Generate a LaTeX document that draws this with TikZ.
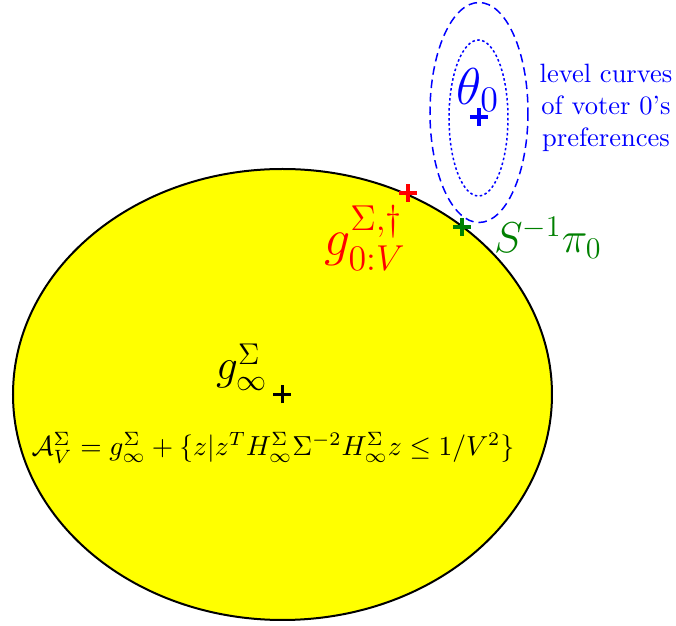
\documentclass[tikz,border=0pt]{standalone}
\usepackage{amsmath,amssymb}
\definecolor{dgreen}{RGB}{0,128,0}
\definecolor{pyellow}{RGB}{255,255,0}
\definecolor{pblue}{RGB}{0,0,255}
\definecolor{pred}{RGB}{255,0,0}
\begin{document}
\begin{tikzpicture}[x=0.4pt,y=-0.4pt,
  pmark/.style={line width=1.3pt},
  lbl/.style={inner sep=0pt}]
\useasboundingbox (0,0) rectangle (676,626);
% yellow set
\coordinate (c) at (282.5,394.5);
\draw[fill=pyellow,line width=0.8pt] (c) ellipse [x radius=269.5, y radius=225.5];
% level curves
\draw[pblue,line width=0.6pt,dash pattern=on 3.4pt off 2pt] (479,112.5) ellipse [x radius=49, y radius=110];
\draw[pblue,line width=0.6pt,dash pattern=on 1pt off 1pt] (478.5,118) ellipse [x radius=29.5, y radius=78];
% markers
\coordinate (p0) at (479,117);
\coordinate (pr) at (408,193);
\coordinate (pg) at (462,227);
\draw[pmark,pblue] ([xshift=-3.6pt]p0) -- ([xshift=3.6pt]p0) ([yshift=-3.6pt]p0) -- ([yshift=3.6pt]p0);
\draw[pmark,pred] ([xshift=-3.6pt]pr) -- ([xshift=3.6pt]pr) ([yshift=-3.6pt]pr) -- ([yshift=3.6pt]pr);
\draw[pmark,dgreen] ([xshift=-3.6pt]pg) -- ([xshift=3.6pt]pg) ([yshift=-3.6pt]pg) -- ([yshift=3.6pt]pg);
\draw[pmark,black] ([xshift=-3.6pt]c) -- ([xshift=3.6pt]c) ([yshift=-3.6pt]c) -- ([yshift=3.6pt]c);
% labels
\node[lbl,pblue] (theta) at (478,90) {\huge $\theta_0$};
\node[lbl,pred] (gd) at (365,238) {\huge $g^{\Sigma,\dagger}_{0:V}$};
\node[lbl,dgreen] (spi) at (548,238) {\LARGE $S^{-1}\pi_0$};
\node[lbl] (ginf) at (242,367) {\LARGE $g^{\Sigma}_{\infty}$};
\node[lbl] (form) at (273,448) {\scalebox{1.1}{$\mathcal{A}_V^\Sigma = g_\infty^\Sigma + \{z | z^T H_\infty^\Sigma \Sigma^{-2} H_\infty^\Sigma z \leq 1/V^2\}$}};
\node[lbl,pblue,align=center,font=\fontsize{10.6}{12.8}\selectfont] (lev) at (606,108) {level curves\\of voter 0's\\preferences};
\end{tikzpicture}
\end{document}
